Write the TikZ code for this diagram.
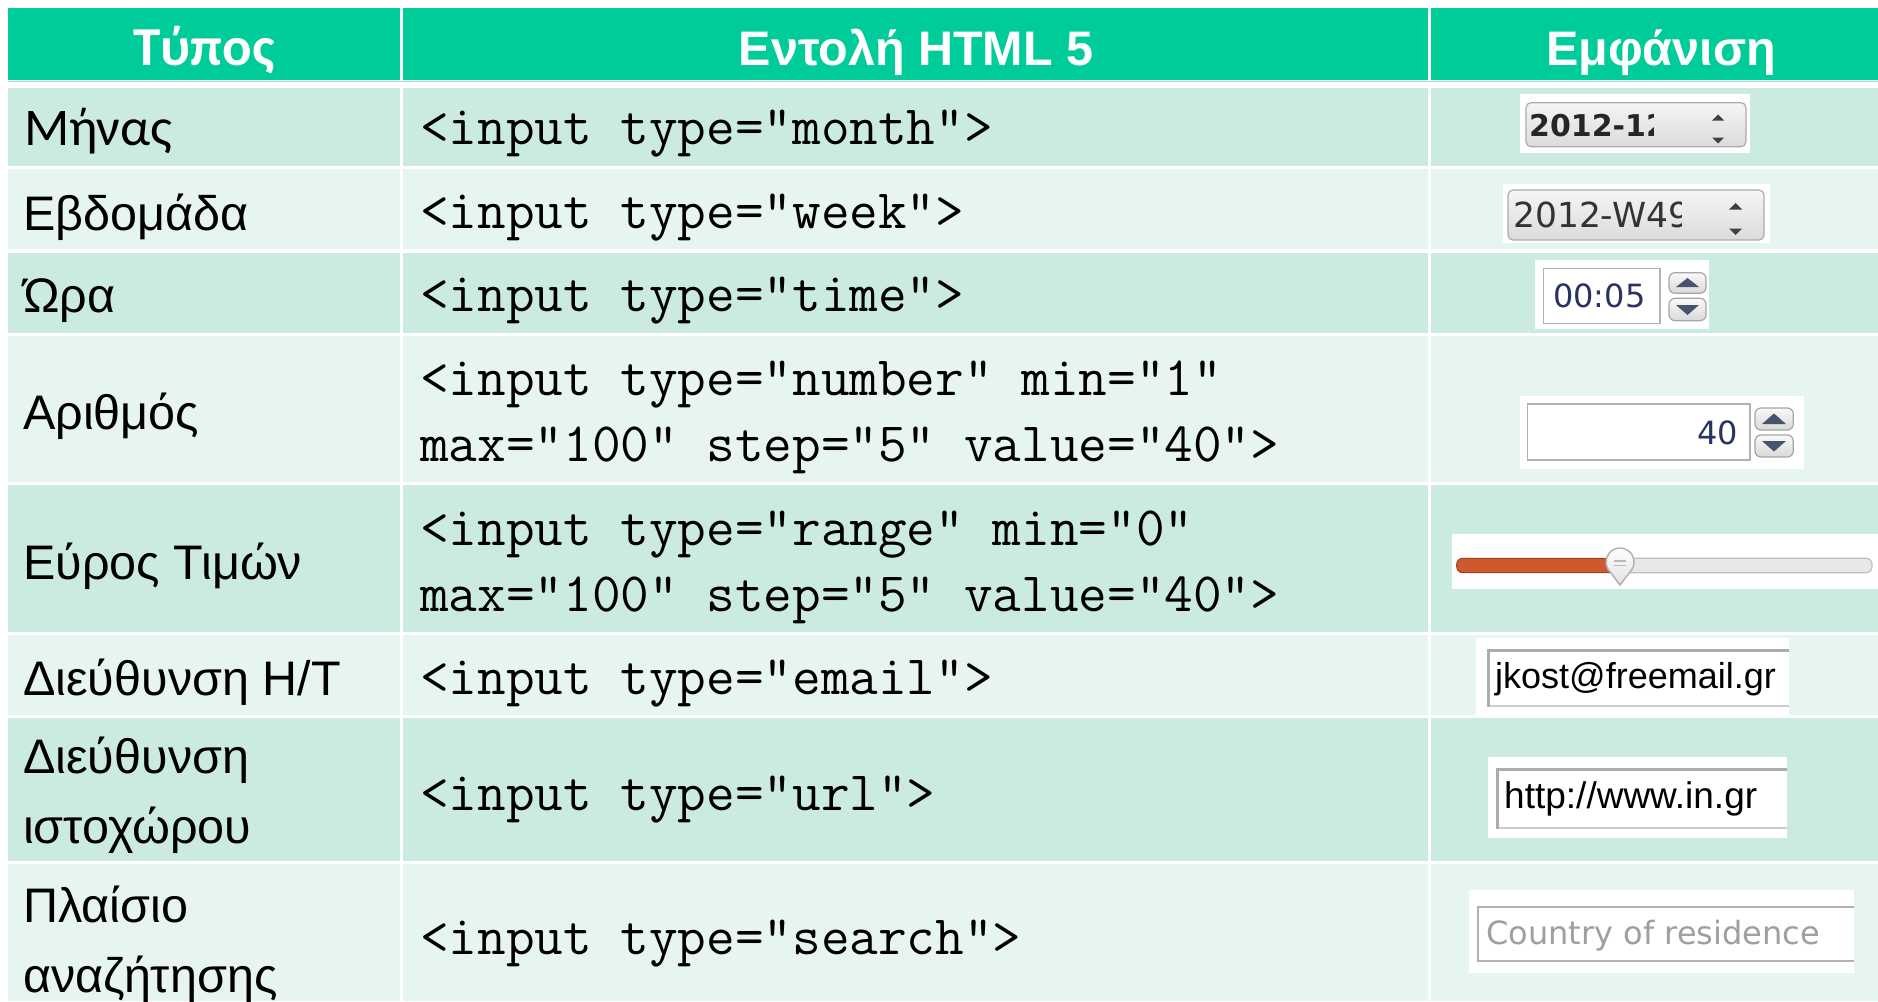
\documentclass[tikz,border=0pt]{standalone}
\usepackage{fontspec}
\setmainfont{Liberation Sans}
\newfontfamily\calib{Carlito}
\newfontfamily\dvs{DejaVu Sans}
\definecolor{hdrc}{RGB}{0,204,153}
\definecolor{rowa}{RGB}{204,235,223}
\definecolor{rowb}{RGB}{231,245,239}
\definecolor{spintri}{RGB}{70,82,110}
\definecolor{numtxt}{RGB}{40,52,95}
\definecolor{slider}{RGB}{208,88,46}
\begin{document}
\begin{tikzpicture}[x=1pt,y=-1pt,
  lbl/.style={anchor=base west, inner sep=0pt, font=\fontsize{48.5}{58}\selectfont},
  lblc/.style={anchor=base west, inner sep=0pt, font=\calib\fontsize{53}{62}\selectfont},
  codetxt/.style={anchor=base west, inner sep=0pt, font=\ttfamily\fontsize{55.6}{64}\selectfont},
  hdrtxt/.style={anchor=base, inner sep=0pt, text=white, font=\bfseries\fontsize{48.5}{58}\selectfont},
  hdrtxtc/.style={anchor=base, inner sep=0pt, text=white, font=\calib\bfseries\fontsize{55}{64}\selectfont},
  wbg/.style={fill=white, draw=none},
  greybox/.style={rounded corners=5pt, draw=gray!65, line width=1.2pt, top color=gray!8, bottom color=gray!28},
  pill/.style={rounded corners=6pt, draw=gray!70, line width=1.2pt, top color=gray!5, bottom color=gray!30},
  tri/.style={fill=spintri, draw=none},
  smalltri/.style={fill=black!75, draw=none},
  widgettxt/.style={anchor=base west, inner sep=0pt},
]
\fill[white] (0,0) rectangle (1878,1001);
\useasboundingbox (0,0) rectangle (1878,1001);

% header
\fill[hdrc] (8,8) rectangle (400,80);
\fill[hdrc] (403,8) rectangle (1428.3,80);
\fill[hdrc] (1431,8) rectangle (1878,80);
\draw[hdrc!40, line width=1pt] (8,81) -- (1878,81);

% body rows
\foreach \ya/\yb/\col in {88/166/rowa, 169/249.3/rowb, 252.5/333/rowa, 336/482.3/rowb,
  485.3/632/rowa, 635/715/rowb, 718/861/rowa, 863.5/1001/rowb}{
  \fill[\col] (8,\ya) rectangle (400,\yb);
  \fill[\col] (403,\ya) rectangle (1428.3,\yb);
  \fill[\col] (1431,\ya) rectangle (1878,\yb);
}

% header texts
\node[hdrtxtc] (h1) at (204,65) {Τύπος};
\node[hdrtxt] (h2) at (916,65) {Εντολή HTML 5};
\node[hdrtxt] (h3) at (1661,65) {Εμφάνιση};

% type column
\node[lblc] (t1) at (24,145.7) {Μήνας};
\node[lbl] (t2) at (23,230) {Εβδομάδα};
\node[lbl] (t3) at (23,312.3) {Ώρα};
\node[lbl] (t4) at (23,429.3) {Αριθμός};
\node[lbl] (t5) at (23,579) {Εύρος Τιμών};
\node[lbl] (t6) at (23,695.7) {Διεύθυνση Η/Τ};
\node[lbl] (t7a) at (23,773) {Διεύθυνση};
\node[lbl] (t7b) at (23,843.5) {ιστοχώρου};
\node[lbl] (t8a) at (23,922) {Πλαίσιο};
\node[lbl] (t8b) at (23,992) {αναζήτησης};

% code column
\node[codetxt] (c1) at (420,144.5) {<input type="month">};
\node[codetxt] (c2) at (420,228) {<input type="week">};
\node[codetxt] (c3) at (420,311.5) {<input type="time">};
\node[codetxt] (c4a) at (420,395) {<input type="number" min="1"};
\node[codetxt] (c4b) at (420,461) {max="100" step="5" value="40">};
\node[codetxt] (c5a) at (420,545) {<input type="range" min="0"};
\node[codetxt] (c5b) at (420,611) {max="100" step="5" value="40">};
\node[codetxt] (c6) at (420,694) {<input type="email">};
\node[codetxt] (c7) at (420,810) {<input type="url">};
\node[codetxt] (c8) at (420,954) {<input type="search">};

% --- month widget
\fill[wbg] (1520,94) rectangle (1750,152.7);
\draw[greybox] (1526,102.7) rectangle (1746,146.7);
\begin{scope}
  \clip (1528,100) rectangle (1653,150);
  \node[widgettxt, font=\dvs\bfseries\fontsize{30}{36}\selectfont, text=black!85] (m1) at (1529,136.3) {2012-12};
\end{scope}
\fill[smalltri] (1712,120.5) -- (1724,120.5) -- (1718,114.5) -- cycle;
\fill[smalltri] (1712,137.5) -- (1724,137.5) -- (1718,143.5) -- cycle;

% --- week widget
\fill[wbg] (1503,184) rectangle (1770,243.3);
\draw[greybox] (1508,190) rectangle (1764,240);
\begin{scope}
  \clip (1510,188) rectangle (1681,242);
  \node[widgettxt, font=\dvs\fontsize{34.5}{40}\selectfont, text=black!80] (w1) at (1513,227) {2012-W49};
\end{scope}
\fill[smalltri] (1729,209.5) -- (1742,209.5) -- (1735.5,203) -- cycle;
\fill[smalltri] (1729,228.5) -- (1742,228.5) -- (1735.5,235) -- cycle;

% --- time widget
\fill[wbg] (1535,260) rectangle (1708.7,329.3);
\draw[gray!60, line width=1.5pt, fill=white] (1543.3,268.3) rectangle (1660,323.3);
\node[widgettxt, font=\dvs\fontsize{32}{38}\selectfont, text=numtxt] (tm1) at (1553,307) {00:05};
\draw[pill] (1669,272.7) rectangle (1706,293.3);
\draw[pill] (1669,298.3) rectangle (1706,320.7);
\fill[tri] (1676,287) -- (1699,287) -- (1687.5,278) -- cycle;
\fill[tri] (1676,305) -- (1699,305) -- (1687.5,315) -- cycle;

% --- number widget
\fill[wbg] (1520,396) rectangle (1804,468.7);
\draw[gray!60, line width=1.5pt, fill=white] (1527.7,404) rectangle (1750,460);
\node[anchor=base east, inner sep=0pt, font=\dvs\fontsize{32}{38}\selectfont, text=numtxt] (n1) at (1738,444) {40};
\draw[pill] (1755,408) rectangle (1793.3,430);
\draw[pill] (1755,435) rectangle (1793.3,457);
\fill[tri] (1762,424) -- (1786,424) -- (1774,413.5) -- cycle;
\fill[tri] (1762,441) -- (1786,441) -- (1774,451.5) -- cycle;

% --- range widget
\fill[wbg] (1451.7,534) rectangle (1878,589.3);
\draw[gray!50, fill=gray!18, rounded corners=6pt, line width=1.2pt] (1612,558.3) rectangle (1872,572.7);
\draw[slider!75!black, fill=slider, rounded corners=6pt, line width=1pt] (1456.7,558.3) rectangle (1625,572.7);
\draw[gray!60, line width=1.5pt, top color=white, bottom color=gray!22]
  (1620,585) -- (1607.9,569) arc[start angle=150, end angle=390, radius=14] -- cycle;
\draw[gray!55, line width=1.2pt] (1614,561) -- (1626,561) (1614,565.5) -- (1626,565.5);

% --- email widget
\fill[wbg] (1476,638.3) rectangle (1789,715);
\draw[gray!40, line width=2pt] (1486.7,706.3) -- (1789,706.3);
\draw[gray!65, line width=3pt] (1488.2,707.3) -- (1488.2,650.8) -- (1789,650.8);
\node[widgettxt, font=\fontsize{36}{42}\selectfont, text=black] (e1) at (1495,688.3) {jkost@freemail.gr};

% --- url widget
\fill[wbg] (1488,756.7) rectangle (1786.7,837.7);
\draw[gray!40, line width=2pt] (1496,828.3) -- (1786.7,828.3);
\draw[gray!65, line width=3pt] (1497.5,829.3) -- (1497.5,769.8) -- (1786.7,769.8);
\node[widgettxt, font=\fontsize{37}{43}\selectfont, text=black] (u1) at (1504,808.3) {http://www.in.gr};

% --- search widget
\fill[wbg] (1469,890) rectangle (1854,972.7);
\draw[gray!60, line width=2pt] (1854,906.7) -- (1478.3,906.7) -- (1478.3,960.7) -- (1854,960.7);
\node[widgettxt, font=\dvs\fontsize{32}{38}\selectfont, text=gray!75] (s1) at (1486,944) {Country of residence};
\end{tikzpicture}
\end{document}
